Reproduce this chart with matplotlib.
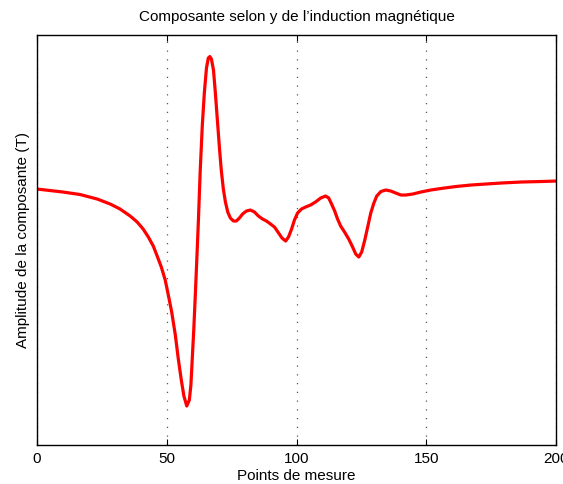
import numpy as np
import matplotlib
matplotlib.use("Agg")
import matplotlib.pyplot as plt

plt.rcParams['font.family'] = ['Liberation Sans', 'DejaVu Sans']

# points de mesure et amplitude (unites arbitraires)
pts = [0, 5.0, 10.0, 16.6, 23.2, 28.2, 32.0, 35.9, 38.6, 40.9, 42.9, 44.8,
       46.3, 47.9, 49.4, 50.6, 51.9, 53.3, 54.4, 55.6, 56.6, 57.7,
       58.7, 59.3, 59.8, 60.4, 61.0, 61.6, 62.2, 62.9, 63.7, 64.5, 65.3,
       66.0, 66.6, 67.2, 68.0, 68.7, 69.5, 70.3, 71.0, 71.8, 72.6, 73.5,
       74.5, 75.7, 76.8, 78.0, 79.2, 80.7, 82.2, 83.8, 85.3, 86.9, 88.4,
       90.0, 91.5, 93.1, 94.4, 95.8, 96.9, 98.1, 99.2, 100.4, 101.9, 103.5,
       105.4, 107.3, 109.3, 111.2, 112.4, 113.5, 114.7, 115.8, 117.0, 118.5,
       120.1, 121.6, 122.8, 124.0, 125.1, 126.3, 127.5, 128.6, 129.8, 130.9,
       132.5, 134.4, 136.3, 138.2, 140.2, 142.1, 144.8, 147.9, 151.7, 155.6,
       161.4, 167.2, 173.0, 178.8, 186.5, 194.2, 200.4]
by = [189, 190.5, 192, 194.5, 199, 204, 209, 216, 222, 229, 237, 246,
      256, 267, 280, 295, 312, 335, 358, 380, 396, 406,
      400, 385, 360, 330, 295, 258, 220, 170, 125, 92, 68,
      58, 56.5, 59, 70, 92, 120, 148, 170, 189, 202, 212,
      218, 221, 221, 218, 214, 211, 210, 212, 216, 219, 221,
      224, 227, 233, 238, 241, 237, 229, 220, 213, 209, 207,
      205, 202, 198, 196, 198, 204, 211, 219, 226, 232,
      239, 247, 254, 257, 252, 240, 226, 213, 203, 196,
      191.5, 190, 191, 193, 195, 195, 194, 192, 190, 188.5,
      186.5, 185, 184, 183, 182, 181.5, 181]
amp = [189 - v for v in by]

fig = plt.figure(figsize=(5.63, 4.84), dpi=100)
ax = fig.add_axes([0.0657, 0.0806, 0.922, 0.847])

ax.plot(pts, amp, color='red', linewidth=2.3, solid_joinstyle='round')

ax.set_xlim(0, 200)
ax.set_ylim(-256, 154)
ax.set_xticks([0, 50, 100, 150, 200])
ax.set_yticks([])
ax.grid(axis='x', linestyle=(0, (1, 6)), color='#555555', linewidth=0.9)
ax.tick_params(direction='in', top=True, length=4, labelsize=11, pad=5)
for s in ax.spines.values():
    s.set_linewidth(1.0)

ax.set_title("Composante selon y de l\u2019induction magn\u00e9tique", fontsize=11, pad=10)
ax.set_xlabel("Points de mesure", fontsize=11, labelpad=2)
ax.set_ylabel("Amplitude de la composante (T)", fontsize=11, labelpad=5)

fig.savefig("out.png", dpi=100)
